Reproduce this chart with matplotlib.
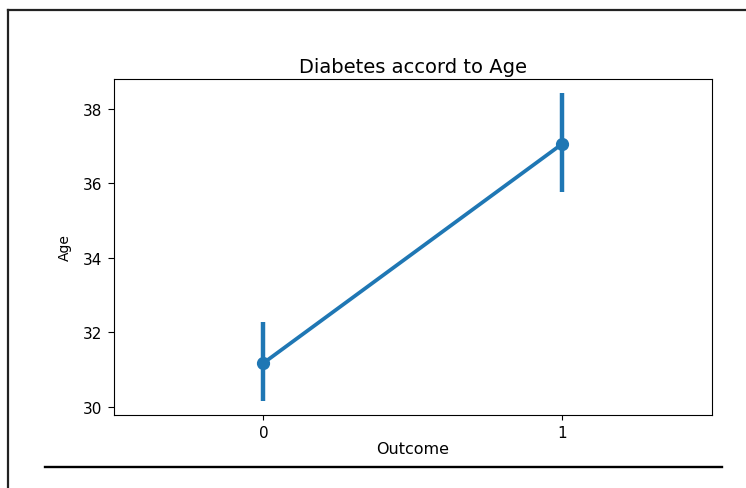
import matplotlib
matplotlib.use("Agg")
import matplotlib.pyplot as plt
from matplotlib.lines import Line2D

# mean age per outcome group with its confidence interval
outcome = [0, 1]
age_mean = [31.18, 37.07]
ci_low = [30.16, 35.76]
ci_high = [32.28, 38.43]

fig = plt.figure(figsize=(7.46, 4.89), dpi=100)
ax = fig.add_axes([0.1528, 0.1493, 0.8016, 0.6871])

color = "#1f77b4"
ax.plot(outcome, age_mean, color=color, lw=2.7, marker="o", markersize=8.5, zorder=3)
ax.vlines(outcome, ci_low, ci_high, color=color, lw=3.2, zorder=2)

ax.set_xlim(-0.5, 1.5)
ax.set_ylim(29.785, 38.805)
ax.set_xticks(outcome)
ax.set_xticklabels([str(o) for o in outcome])
ax.set_yticks([30, 32, 34, 36, 38])
ax.tick_params(labelsize=11)
ax.tick_params(axis="y", length=4.5, pad=4)
ax.set_title("Diabetes accord to Age", fontsize=14, pad=5)
ax.set_xlabel("Outcome", fontsize=11.5, labelpad=1)
ax.set_ylabel("Age", fontsize=10, labelpad=8)

# frame lines around the output cell
W, H = 746, 489
fig.add_artist(Line2D([8 / W, 8 / W], [0, 1 - 10.5 / H], transform=fig.transFigure,
                      color="#222222", lw=1.6))
fig.add_artist(Line2D([8 / W, 1], [1 - 10.5 / H, 1 - 10.5 / H], transform=fig.transFigure,
                      color="#222222", lw=1.6))
fig.add_artist(Line2D([45 / W, 722 / W], [1 - 467.5 / H, 1 - 467.5 / H],
                      transform=fig.transFigure, color="black", lw=1.7))

fig.savefig("out.png", dpi=100)
